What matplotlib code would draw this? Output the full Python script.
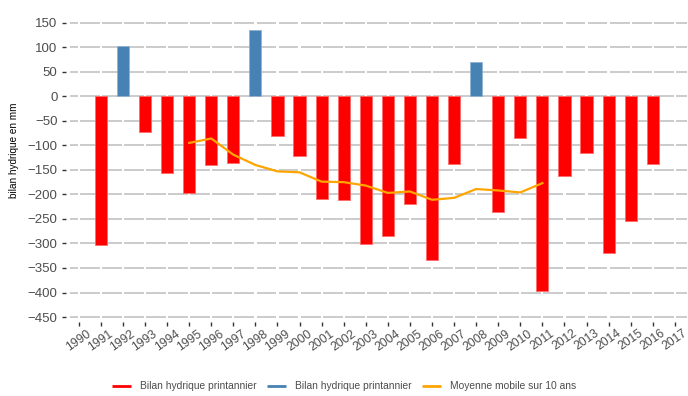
import matplotlib
matplotlib.use("Agg")
import matplotlib.pyplot as plt
from matplotlib.lines import Line2D

plt.rcParams['font.family'] = ['Liberation Sans', 'DejaVu Sans']

# bilan hydrique printannier (mm), 1991-2016
years = list(range(1991, 2017))
bilan = [-303, 103, -72, -157, -198, -140, -135, 136, -80, -122, -209, -212, -301,
         -285, -219, -334, -138, 69, -235, -84, -397, -163, -116, -320, -255, -138]

# moyenne mobile sur 10 ans, 1995-2011
mm_years = list(range(1995, 2012))
mm_values = [-95, -86, -119, -140, -153, -155, -174, -175, -182, -197, -194,
             -211, -207, -189, -192, -196, -177]

tick_years = list(range(1990, 2018))
y_ticks = list(range(-450, 151, 50))

red = '#ff0000'
blue = '#4682b4'
orange = '#ffa500'
grid_col = '#c2c2c2'
text_col = '#4d4d4d'

fig = plt.figure(figsize=(6.88, 3.96), dpi=100)
ax = fig.add_axes([0.1017, 0.187, 0.8968, 0.768])

xmin, xmax = 1989.6, 2017.55
ax.set_xlim(xmin, xmax)
ax.set_ylim(-460, 160)

# grid drawn as pieces between the year ticks, with a small gap at each tick
g = 0.05
edges = [xmin] + tick_years + [xmax]
for y in y_ticks:
    for i in range(len(edges) - 1):
        x0 = edges[i] + (g if i > 0 else 0)
        x1 = edges[i + 1] - (g if i + 1 < len(edges) - 1 else 0)
        ax.hlines(y, x0, x1, color=grid_col, lw=1.2, zorder=0)

neg_x = [x for x, v in zip(years, bilan) if v < 0]
neg_v = [v for v in bilan if v < 0]
pos_x = [x for x, v in zip(years, bilan) if v >= 0]
pos_v = [v for v in bilan if v >= 0]

ax.bar(neg_x, neg_v, width=0.55, color=red, edgecolor='#ff6a6a', lw=0.6, zorder=2)
ax.bar(pos_x, pos_v, width=0.55, color=blue, edgecolor='#8fb3d3', lw=0.6, zorder=2)
ax.plot(mm_years, mm_values, color=orange, lw=1.6, zorder=3)

for s in ax.spines.values():
    s.set_visible(False)
ax.spines['left'].set_position(('outward', 3))

ax.set_xticks(tick_years)
ax.set_xticklabels([str(y) for y in tick_years], rotation=35, ha='center')
ax.set_yticks(y_ticks)
ax.set_yticklabels([str(v).replace('-', '\u2212') for v in y_ticks])
ax.tick_params(axis='x', length=3, width=1, color='#333333', labelsize=8.8,
               labelcolor=text_col, pad=1)
ax.tick_params(axis='y', length=3, width=1, color='#333333', labelsize=9.5,
               labelcolor=text_col, pad=3)

fig.text(0.02, 0.621, 'bilan hydrique en mm', rotation=90, fontsize=7.2,
         ha='center', va='center', color='black')

handles = [Line2D([], [], color=red, lw=2, solid_capstyle='butt'),
           Line2D([], [], color=blue, lw=2, solid_capstyle='butt'),
           Line2D([], [], color=orange, lw=2, solid_capstyle='butt')]
labels = ['Bilan hydrique printannier', 'Bilan hydrique printannier',
          'Moyenne mobile sur 10 ans']
fig.legend(handles, labels, loc='center', bbox_to_anchor=(0.5, 0.025), ncol=3,
           frameon=False, fontsize=7.4, handlelength=1.9, handletextpad=0.85,
           columnspacing=1.0, labelcolor=text_col)

fig.savefig('out.png', dpi=100)
